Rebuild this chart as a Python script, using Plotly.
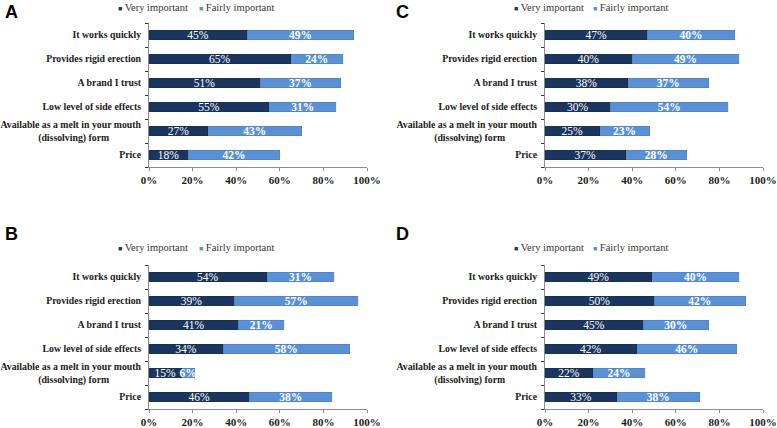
import plotly.graph_objects as go

categories = [
    "It works quickly",
    "Provides rigid erection",
    "A brand I trust",
    "Low level of side effects",
    "Available as a melt in your mouth<br>(dissolving) form" + "\u00a0" * 13,
    "Price",
]
series_names = ["Very important", "Fairly important"]
panel_labels = ["A", "B", "C", "D"]

very_A = [45, 65, 51, 55, 27, 18]
fairly_A = [49, 24, 37, 31, 43, 42]
very_B = [54, 39, 41, 34, 15, 46]
fairly_B = [31, 57, 21, 58, 6, 38]
very_C = [47, 40, 38, 30, 25, 37]
fairly_C = [40, 49, 37, 54, 23, 28]
very_D = [49, 50, 45, 42, 22, 33]
fairly_D = [40, 42, 30, 46, 24, 38]

x_ticks = [0, 20, 40, 60, 80, 100]

DARK = "#1b365e"
LIGHT = "#5a91d6"
SERIF = "Liberation Serif, Times New Roman, serif"

W, H = 777, 428
panels = [
    # label, very, fairly, plot x0, x1, top, bottom (px), legend item x (2 items), legend text y, label pos
    ("A", very_A, fairly_A, 149, 367, 23, 167, (118, 199), 6, (3, 12)),
    ("B", very_B, fairly_B, 149, 367, 265, 409, (118, 199), 246, (3, 234)),
    ("C", very_C, fairly_C, 545, 763, 23, 167, (514, 593), 6, (394, 12)),
    ("D", very_D, fairly_D, 545, 763, 265, 409, (514, 593), 246, (394, 234)),
]

fig = go.Figure()
layout = dict(
    template="none",
    width=W, height=H, margin=dict(l=0, r=0, t=0, b=0, autoexpand=False),
    paper_bgcolor="white", plot_bgcolor="white",
    barmode="stack", bargap=0.6, showlegend=True,
    uniformtext=dict(minsize=11.5, mode="show"),
    font=dict(family=SERIF, color="#1a1a1a"),
)
annotations = []
leg_idx = 0
for i, (lab, very, fairly, x0, x1, yt, yb, ltx, lty, (ax_, ay_)) in enumerate(panels):
    n = "" if i == 0 else str(i + 1)
    xa, ya = "x" + n, "y" + n
    fig.add_trace(go.Bar(
        y=categories, x=very, orientation="h", xaxis=xa, yaxis=ya,
        marker=dict(color=DARK, line=dict(color="rgba(0,0,0,0.15)", width=0.5)),
        text=[f"{v}%" for v in very], textposition="inside", insidetextanchor="middle",
        textangle=0, textfont=dict(family=SERIF, size=11.5, color="white"),
        showlegend=False, name=series_names[0], hoverinfo="x+y",
    ))
    fig.add_trace(go.Bar(
        y=categories, x=fairly, orientation="h", xaxis=xa, yaxis=ya,
        marker=dict(color=LIGHT, line=dict(color="rgba(0,0,0,0.15)", width=0.5)),
        text=[f"<b>{v}%</b>" for v in fairly], textposition="inside", insidetextanchor="middle",
        textangle=0, textfont=dict(family=SERIF, size=11.5, color="white"),
        showlegend=False, name=series_names[1], hoverinfo="x+y",
    ))
    for k, (nm, col) in enumerate(zip(series_names, [DARK, LIGHT])):
        leg_idx += 1
        leg = "legend" if leg_idx == 1 else f"legend{leg_idx}"
        fig.add_trace(go.Scatter(
            x=[None], y=[None], mode="markers", xaxis=xa, yaxis=ya,
            marker=dict(symbol="square", size=1, color="rgba(0,0,0,0)"),
            name=f'<span style="font-size:7px;color:{col}">\u25a0</span> {nm}',
            legend=leg, showlegend=True,
        ))
        layout[leg] = dict(
            orientation="h", x=(ltx[k] - 40) / W, y=1 - (lty - 14) / H,
            xanchor="left", yanchor="top",
            font=dict(family=SERIF, size=10.5, color="#333333"),
            itemwidth=30, bgcolor="rgba(0,0,0,0)",
        )
    layout["xaxis" + n] = dict(
        domain=[x0 / W, x1 / W], anchor=ya, range=[0, 100], automargin=False,
        tickvals=x_ticks, ticktext=[f"<b>{t}%</b>" for t in x_ticks],
        tickfont=dict(family=SERIF, size=11, color="#1a1a1a"),
        showline=True, linecolor="#8c8c8c", linewidth=1,
        ticks="outside", ticklen=3, tickcolor="#8c8c8c", ticklabelstandoff=0,
        ticklabeloverflow="allow",
        showgrid=False, zeroline=False, fixedrange=True,
    )
    layout["yaxis" + n] = dict(
        domain=[1 - yb / H, 1 - yt / H], anchor=xa, automargin=False,
        categoryorder="array", categoryarray=categories, autorange="reversed",
        tickvals=categories, ticktext=[f"<b>{c}</b>" for c in categories],
        tickfont=dict(family=SERIF, size=9.8, color="#1a1a1a"),
        showline=True, linecolor="#8c8c8c", linewidth=1,
        ticks="outside", tickson="boundaries", ticklen=3, tickcolor="#333333",
        ticklabelstandoff=5,
        showgrid=False, zeroline=False, fixedrange=True,
    )
    annotations.append(dict(
        text=f"<b>{lab}</b>", x=ax_ / W, y=1 - ay_ / H, xref="paper", yref="paper",
        xanchor="left", yanchor="middle", showarrow=False,
        font=dict(family="Liberation Sans", size=18, color="black"),
    ))
layout["annotations"] = annotations
fig.update_layout(**layout)
fig.write_html("out.html", config={"displayModeBar": False},
               post_script="document.body.style.margin='0';")
